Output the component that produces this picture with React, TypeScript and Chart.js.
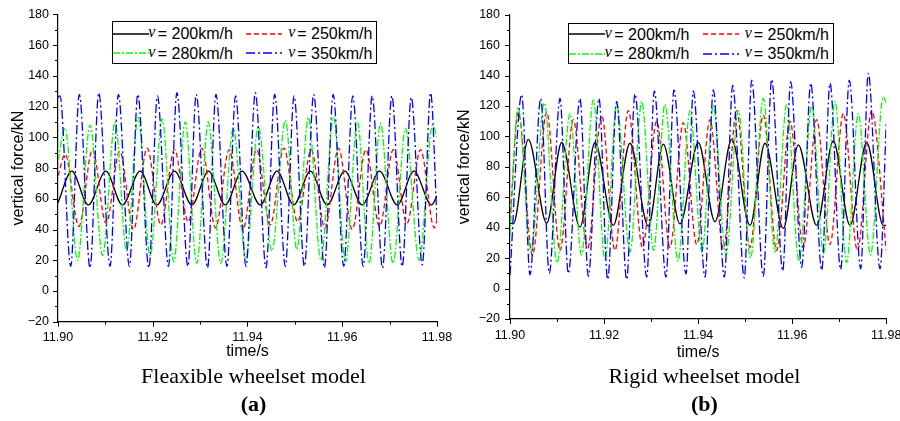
import React, { useEffect, useRef } from 'react';
import { Chart, registerables } from 'chart.js';

Chart.register(...registerables);

// ---------------- data ----------------
const speedLabels = ['200', '250', '280', '350'];
const xTickValues = [11.9, 11.92, 11.94, 11.96, 11.98];
const xMinorValues = [11.91, 11.93, 11.95, 11.97];
const yTickValues = [-20, 0, 20, 40, 60, 80, 100, 120, 140, 160, 180];
const yMinorValues = [-10, 10, 30, 50, 70, 90, 110, 130, 150, 170];

// (a) flexible wheelset model: [time s, vertical force kN] at the turning points of each trace
const flex200: [number, number][] = [
  [11.9, 57.5], [11.9029, 78], [11.90641, 56], [11.91008, 78], [11.91359, 56], [11.91734, 78],
  [11.92087, 56], [11.92459, 78], [11.92827, 56], [11.93178, 78], [11.93531, 56], [11.93884, 78],
  [11.94271, 56], [11.94624, 78], [11.94975, 56], [11.95328, 78], [11.95681, 56], [11.96053, 78],
  [11.96421, 56], [11.96786, 78], [11.97161, 56], [11.97512, 78], [11.97886, 56], [11.98, 62],
];
const flex250: [number, number][] = [
  [11.9, 75], [11.9015, 89], [11.9044, 42], [11.90727, 92], [11.91015, 44], [11.91304, 91],
  [11.91594, 40], [11.91882, 93], [11.92171, 43], [11.92459, 92], [11.92748, 45], [11.93036, 93],
  [11.93326, 41], [11.93613, 92], [11.93903, 40], [11.9419, 92], [11.9448, 43], [11.94768, 93],
  [11.95057, 45], [11.95345, 92], [11.95634, 41], [11.95922, 93], [11.96211, 40], [11.96499, 92],
  [11.96789, 42], [11.97076, 92], [11.97366, 44], [11.97653, 92], [11.97943, 41], [11.98, 46],
];
const flex280: [number, number][] = [
  [11.9, 85], [11.90148, 106], [11.90412, 20], [11.90677, 108], [11.90941, 23], [11.91205, 110],
  [11.91448, 26], [11.91691, 113], [11.91945, 23], [11.92199, 112], [11.92442, 19], [11.92685, 110],
  [11.92928, 18], [11.93171, 110], [11.93436, 18], [11.937, 106], [11.93964, 21], [11.94228, 107],
  [11.94514, 26], [11.94799, 111], [11.95042, 27], [11.95286, 113], [11.9555, 20], [11.95814, 113],
  [11.96068, 19], [11.96321, 110], [11.96565, 18], [11.96808, 109], [11.97072, 18], [11.97336, 106],
  [11.97622, 20], [11.97907, 108], [11.98, 100],
];
const flex350: [number, number][] = [
  [11.9, 126], [11.90042, 127], [11.90268, 16], [11.9045, 128], [11.90677, 15], [11.9086, 129],
  [11.91099, 16], [11.91275, 128], [11.91507, 16], [11.91685, 128], [11.91918, 15], [11.92099, 127],
  [11.92332, 16], [11.9251, 129], [11.92742, 16], [11.92918, 128], [11.93156, 15], [11.93334, 128],
  [11.93567, 16], [11.93748, 127], [11.93968, 16], [11.94165, 129], [11.94391, 15], [11.94573, 128],
  [11.94799, 16], [11.94983, 127], [11.95201, 16], [11.95397, 128], [11.95624, 15], [11.95808, 128],
  [11.96032, 16], [11.96222, 127], [11.96442, 16], [11.96632, 127], [11.9685, 15], [11.97047, 127],
  [11.97266, 16], [11.97457, 126], [11.97689, 17], [11.97865, 129], [11.98, 46],
];

// (b) rigid wheelset model
const rigid200: [number, number][] = [
  [11.9, 43], [11.9007, 42.5], [11.90389, 98], [11.9078, 43], [11.91099, 96], [11.91488, 40.5],
  [11.91807, 96], [11.92196, 41.5], [11.92551, 95.5], [11.9294, 41], [11.93259, 95], [11.93614, 42.5],
  [11.94003, 96], [11.94358, 44], [11.94713, 98], [11.95102, 41.5], [11.95421, 95.5], [11.9581, 39.5],
  [11.96129, 94.5], [11.9652, 41.5], [11.96873, 97], [11.97228, 41.5], [11.97583, 96], [11.97936, 41.5],
  [11.98, 41.5],
];
const rigid250: [number, number][] = [
  [11.9, 45], [11.90176, 116], [11.90478, 22], [11.9078, 116], [11.91063, 25], [11.91346, 111],
  [11.91648, 26], [11.91949, 114], [11.92232, 25], [11.92515, 117], [11.92817, 27], [11.93119, 110],
  [11.93401, 27], [11.93684, 109], [11.93969, 29], [11.94252, 111], [11.94535, 26], [11.94819, 117],
  [11.95102, 27], [11.95385, 114], [11.9567, 25], [11.95953, 110], [11.96235, 27], [11.9652, 111],
  [11.96803, 29], [11.97086, 115], [11.97387, 25], [11.97689, 117], [11.98, 25],
];
const rigid280: [number, number][] = [
  [11.9, 35], [11.9017, 119], [11.90446, 24], [11.90729, 122], [11.90999, 17], [11.91276, 115],
  [11.9152, 22], [11.91771, 124], [11.9202, 19], [11.92268, 121], [11.92551, 24], [11.928, 123],
  [11.93051, 25], [11.93295, 121], [11.93572, 18], [11.93827, 117], [11.94082, 24], [11.94322, 120],
  [11.94592, 22], [11.94853, 117], [11.95113, 20], [11.95385, 125], [11.95634, 24], [11.95882, 121],
  [11.96144, 18], [11.96414, 120], [11.96665, 23], [11.96909, 123], [11.97154, 17], [11.97404, 115],
  [11.97664, 22], [11.97936, 126], [11.98, 122],
];
const rigid350: [number, number][] = [
  [11.9, 9], [11.90249, 127.5], [11.90425, 9], [11.90653, 125], [11.90835, 10], [11.91063, 125],
  [11.91239, 10], [11.91488, 125], [11.91665, 8], [11.91892, 125], [11.92077, 6], [11.92268, 123],
  [11.92481, 6], [11.92657, 128], [11.92906, 7.5], [11.93068, 130], [11.93316, 7.5], [11.93486, 130.5],
  [11.93742, 9.5], [11.93897, 130], [11.94146, 7.5], [11.94322, 130.5], [11.94556, 7.5], [11.94734, 133.5],
  [11.94981, 7], [11.95138, 137], [11.95385, 8], [11.95563, 137.5], [11.95797, 11.5], [11.95967, 136],
  [11.96201, 14], [11.96393, 135], [11.96626, 12], [11.96803, 135], [11.9703, 12.5], [11.97213, 137],
  [11.97456, 13], [11.97617, 141.5], [11.97866, 13], [11.98, 110],
];

// ---------------- styles ----------------
const seriesColors = ['#000000', '#ff0000', '#00ff00', '#0000ff'];
const seriesDashes: number[][] = [[], [5, 3], [7, 2, 2, 2], [9, 3, 2, 3]];
const seriesWidths = [1.3, 1.3, 1.3, 1.3];
const SANS = '"Liberation Sans", Arial, sans-serif';
const SERIF = '"Liberation Serif", "Times New Roman", serif';

type Layout = {
  canvasW: number;
  canvasH: number;
  left: number;
  top: number;
  right: number;
  bottom: number;
  yLabelPad: number;
  xLabelPad: number;
  yTitlePad: number;
  xTitlePad: number;
  legendLeft: number;
  legendTop: number;
  legendW: number;
  legendH: number;
  row1: number;
  row2: number;
  titleCx: number;
};

const layoutA: Layout = {
  canvasW: 460, canvasH: 365, left: 58, top: 14.4, right: 437, bottom: 321.7,
  yLabelPad: 9, xLabelPad: 8, yTitlePad: 8.5, xTitlePad: 3.4,
  legendLeft: 111.7, legendTop: 21, legendW: 265.5, legendH: 43, row1: 12.8, row2: 32.2,
  titleCx: 253.5,
};
const layoutB: Layout = {
  canvasW: 450, canvasH: 365, left: 60, top: 14.7, right: 436.3, bottom: 319,
  yLabelPad: 10, xLabelPad: 9, yTitlePad: 4.5, xTitlePad: 3.1,
  legendLeft: 118.3, legendTop: 22.7, legendW: 265.7, legendH: 41.3, row1: 11.8, row2: 31.1,
  titleCx: 254.5,
};

const tickMarks = {
  id: 'tickMarks',
  afterDraw(chart: any) {
    const { ctx, scales, chartArea } = chart;
    const xs = scales.x;
    const ys = scales.y;
    ctx.save();
    ctx.strokeStyle = '#000';
    ctx.lineWidth = 1;
    const drawX = (vals: number[], len: number) => {
      vals.forEach((v) => {
        const px = Math.round(xs.getPixelForValue(v)) + 0.5;
        ctx.beginPath();
        ctx.moveTo(px, chartArea.bottom);
        ctx.lineTo(px, chartArea.bottom + len);
        ctx.stroke();
      });
    };
    const drawY = (vals: number[], len: number) => {
      vals.forEach((v) => {
        const py = Math.round(ys.getPixelForValue(v)) + 0.5;
        ctx.beginPath();
        ctx.moveTo(chartArea.left, py);
        ctx.lineTo(chartArea.left - len, py);
        ctx.stroke();
      });
    };
    drawX(xTickValues, 5);
    drawX(xMinorValues, 3);
    drawY(yTickValues, 5);
    drawY(yMinorValues, 3);
    ctx.restore();
  },
};

function Legend({ L }: { L: Layout }) {
  const cols = [
    { sample: 1, v: 36.5, text: 46 },
    { sample: 134.5, v: 176.5, text: 185.5 },
  ];
  const items = speedLabels.map((s, i) => ({
    s,
    i,
    col: cols[i % 2],
    row: i < 2 ? L.row1 : L.row2,
  }));
  return (
    <div
      style={{
        position: 'absolute',
        left: L.legendLeft,
        top: L.legendTop,
        width: L.legendW,
        height: L.legendH,
        border: '1px solid #000',
        boxSizing: 'border-box',
        background: '#fff',
      }}
    >
      {items.map(({ s, i, col, row }) => (
        <React.Fragment key={s}>
          <svg
            width={38}
            height={6}
            style={{ position: 'absolute', left: col.sample - 1, top: row - 3 - 1 }}
          >
            <line
              x1={0}
              y1={3}
              x2={36}
              y2={3}
              stroke={seriesColors[i]}
              strokeWidth={seriesWidths[i]}
              strokeDasharray={seriesDashes[i].length ? seriesDashes[i].join(' ') : undefined}
            />
          </svg>
          <span
            style={{
              position: 'absolute',
              left: col.v - 1,
              top: row - 10.5 - 1,
              fontFamily: SERIF,
              fontStyle: 'italic',
              fontSize: 16,
              lineHeight: '18px',
              whiteSpace: 'nowrap',
            }}
          >
            v
          </span>
          <span
            style={{
              position: 'absolute',
              left: col.text - 1,
              top: row - 8.6 - 1,
              fontFamily: SANS,
              fontSize: 16,
              lineHeight: '18px',
              whiteSpace: 'nowrap',
            }}
          >
            {'= ' + s + 'km/h'}
          </span>
        </React.Fragment>
      ))}
    </div>
  );
}

function Panel({
  offsetX,
  series,
  title,
  letter,
  L,
}: {
  offsetX: number;
  series: [number, number][][];
  title: string;
  letter: string;
  L: Layout;
}) {
  const ref = useRef<HTMLCanvasElement>(null);
  useEffect(() => {
    const canvas = ref.current;
    if (!canvas) return;
    const order = [0, 1, 2, 3];
    const chart = new Chart(canvas, {
      type: 'line',
      data: {
        datasets: order.map((i) => ({
          label: 'v = ' + speedLabels[i] + 'km/h',
          data: series[i].map(([t, v]) => ({ x: t, y: v })),
          borderColor: seriesColors[i],
          borderWidth: seriesWidths[i],
          borderDash: seriesDashes[i],
          pointRadius: 0,
          fill: false,
          cubicInterpolationMode: 'monotone' as const,
          order: 3 - i,
        })),
      },
      plugins: [tickMarks],
      options: {
        animation: false,
        responsive: false,
        devicePixelRatio: 1,
        events: [],
        layout: {
          padding: { left: 0, top: L.top, right: L.canvasW - L.right, bottom: 0 },
        },
        plugins: {
          legend: { display: false },
          tooltip: { enabled: false },
          title: { display: false },
        },
        scales: {
          x: {
            type: 'linear',
            min: 11.9,
            max: 11.98,
            afterBuildTicks: (s: any) => {
              s.ticks = xTickValues.map((v) => ({ value: v }));
            },
            afterFit: (s: any) => {
              s.height = L.canvasH - L.bottom;
              s.paddingLeft = 0;
              s.paddingRight = 0;
            },
            grid: { display: false, drawTicks: false },
            border: { display: true, color: '#000', width: 1.2 },
            ticks: {
              autoSkip: false,
              maxRotation: 0,
              padding: L.xLabelPad,
              color: '#000',
              font: { family: SANS, size: 12.5 },
              callback: (v: any) => Number(v).toFixed(2),
            },
            title: {
              display: true,
              text: 'time/s',
              color: '#000',
              font: { family: SANS, size: 16 },
              padding: { top: 0, bottom: L.xTitlePad },
            },
          },
          y: {
            type: 'linear',
            min: -20,
            max: 180,
            afterBuildTicks: (s: any) => {
              s.ticks = yTickValues.map((v) => ({ value: v }));
            },
            afterFit: (s: any) => {
              s.width = L.left;
              s.paddingTop = 0;
              s.paddingBottom = 0;
            },
            grid: { display: false, drawTicks: false },
            border: { display: true, color: '#000', width: 1.2 },
            ticks: {
              autoSkip: false,
              padding: L.yLabelPad,
              color: '#000',
              font: { family: SANS, size: 12.5 },
              callback: (v: any) => (Number(v) < 0 ? '\u2212' + Math.abs(Number(v)) : String(v)),
            },
            title: {
              display: true,
              text: 'vertical force/kN',
              color: '#000',
              font: { family: SANS, size: 16 },
              padding: { top: L.yTitlePad, bottom: 0 },
            },
          },
        },
      },
    } as any);
    return () => chart.destroy();
  }, []);

  return (
    <div style={{ position: 'absolute', left: offsetX, top: 0, width: 450, height: 421 }}>
      <canvas
        ref={ref}
        width={L.canvasW}
        height={L.canvasH}
        style={{ position: 'absolute', left: 0, top: 0, width: L.canvasW, height: L.canvasH }}
      />
      <Legend L={L} />
      <div
        style={{
          position: 'absolute',
          left: L.titleCx - 200,
          width: 400,
          top: 364,
          textAlign: 'center',
          fontFamily: SERIF,
          fontSize: 22,
          lineHeight: '24px',
          whiteSpace: 'nowrap',
        }}
      >
        {title}
      </div>
      <div
        style={{
          position: 'absolute',
          left: L.titleCx - 200,
          width: 400,
          top: 392,
          textAlign: 'center',
          fontFamily: SERIF,
          fontWeight: 'bold',
          fontSize: 22,
          lineHeight: '24px',
          whiteSpace: 'nowrap',
        }}
      >
        {letter}
      </div>
    </div>
  );
}

export default function App() {
  return (
    <div
      style={{
        position: 'fixed',
        left: 0,
        top: 0,
        width: 900,
        height: 421,
        background: '#fff',
        overflow: 'hidden',
      }}
    >
      <Panel
        offsetX={0}
        series={[flex200, flex250, flex280, flex350]}
        title="Fleaxible wheelset model"
        letter="(a)"
        L={layoutA}
      />
      <Panel
        offsetX={450}
        series={[rigid200, rigid250, rigid280, rigid350]}
        title="Rigid wheelset model"
        letter="(b)"
        L={layoutB}
      />
    </div>
  );
}
